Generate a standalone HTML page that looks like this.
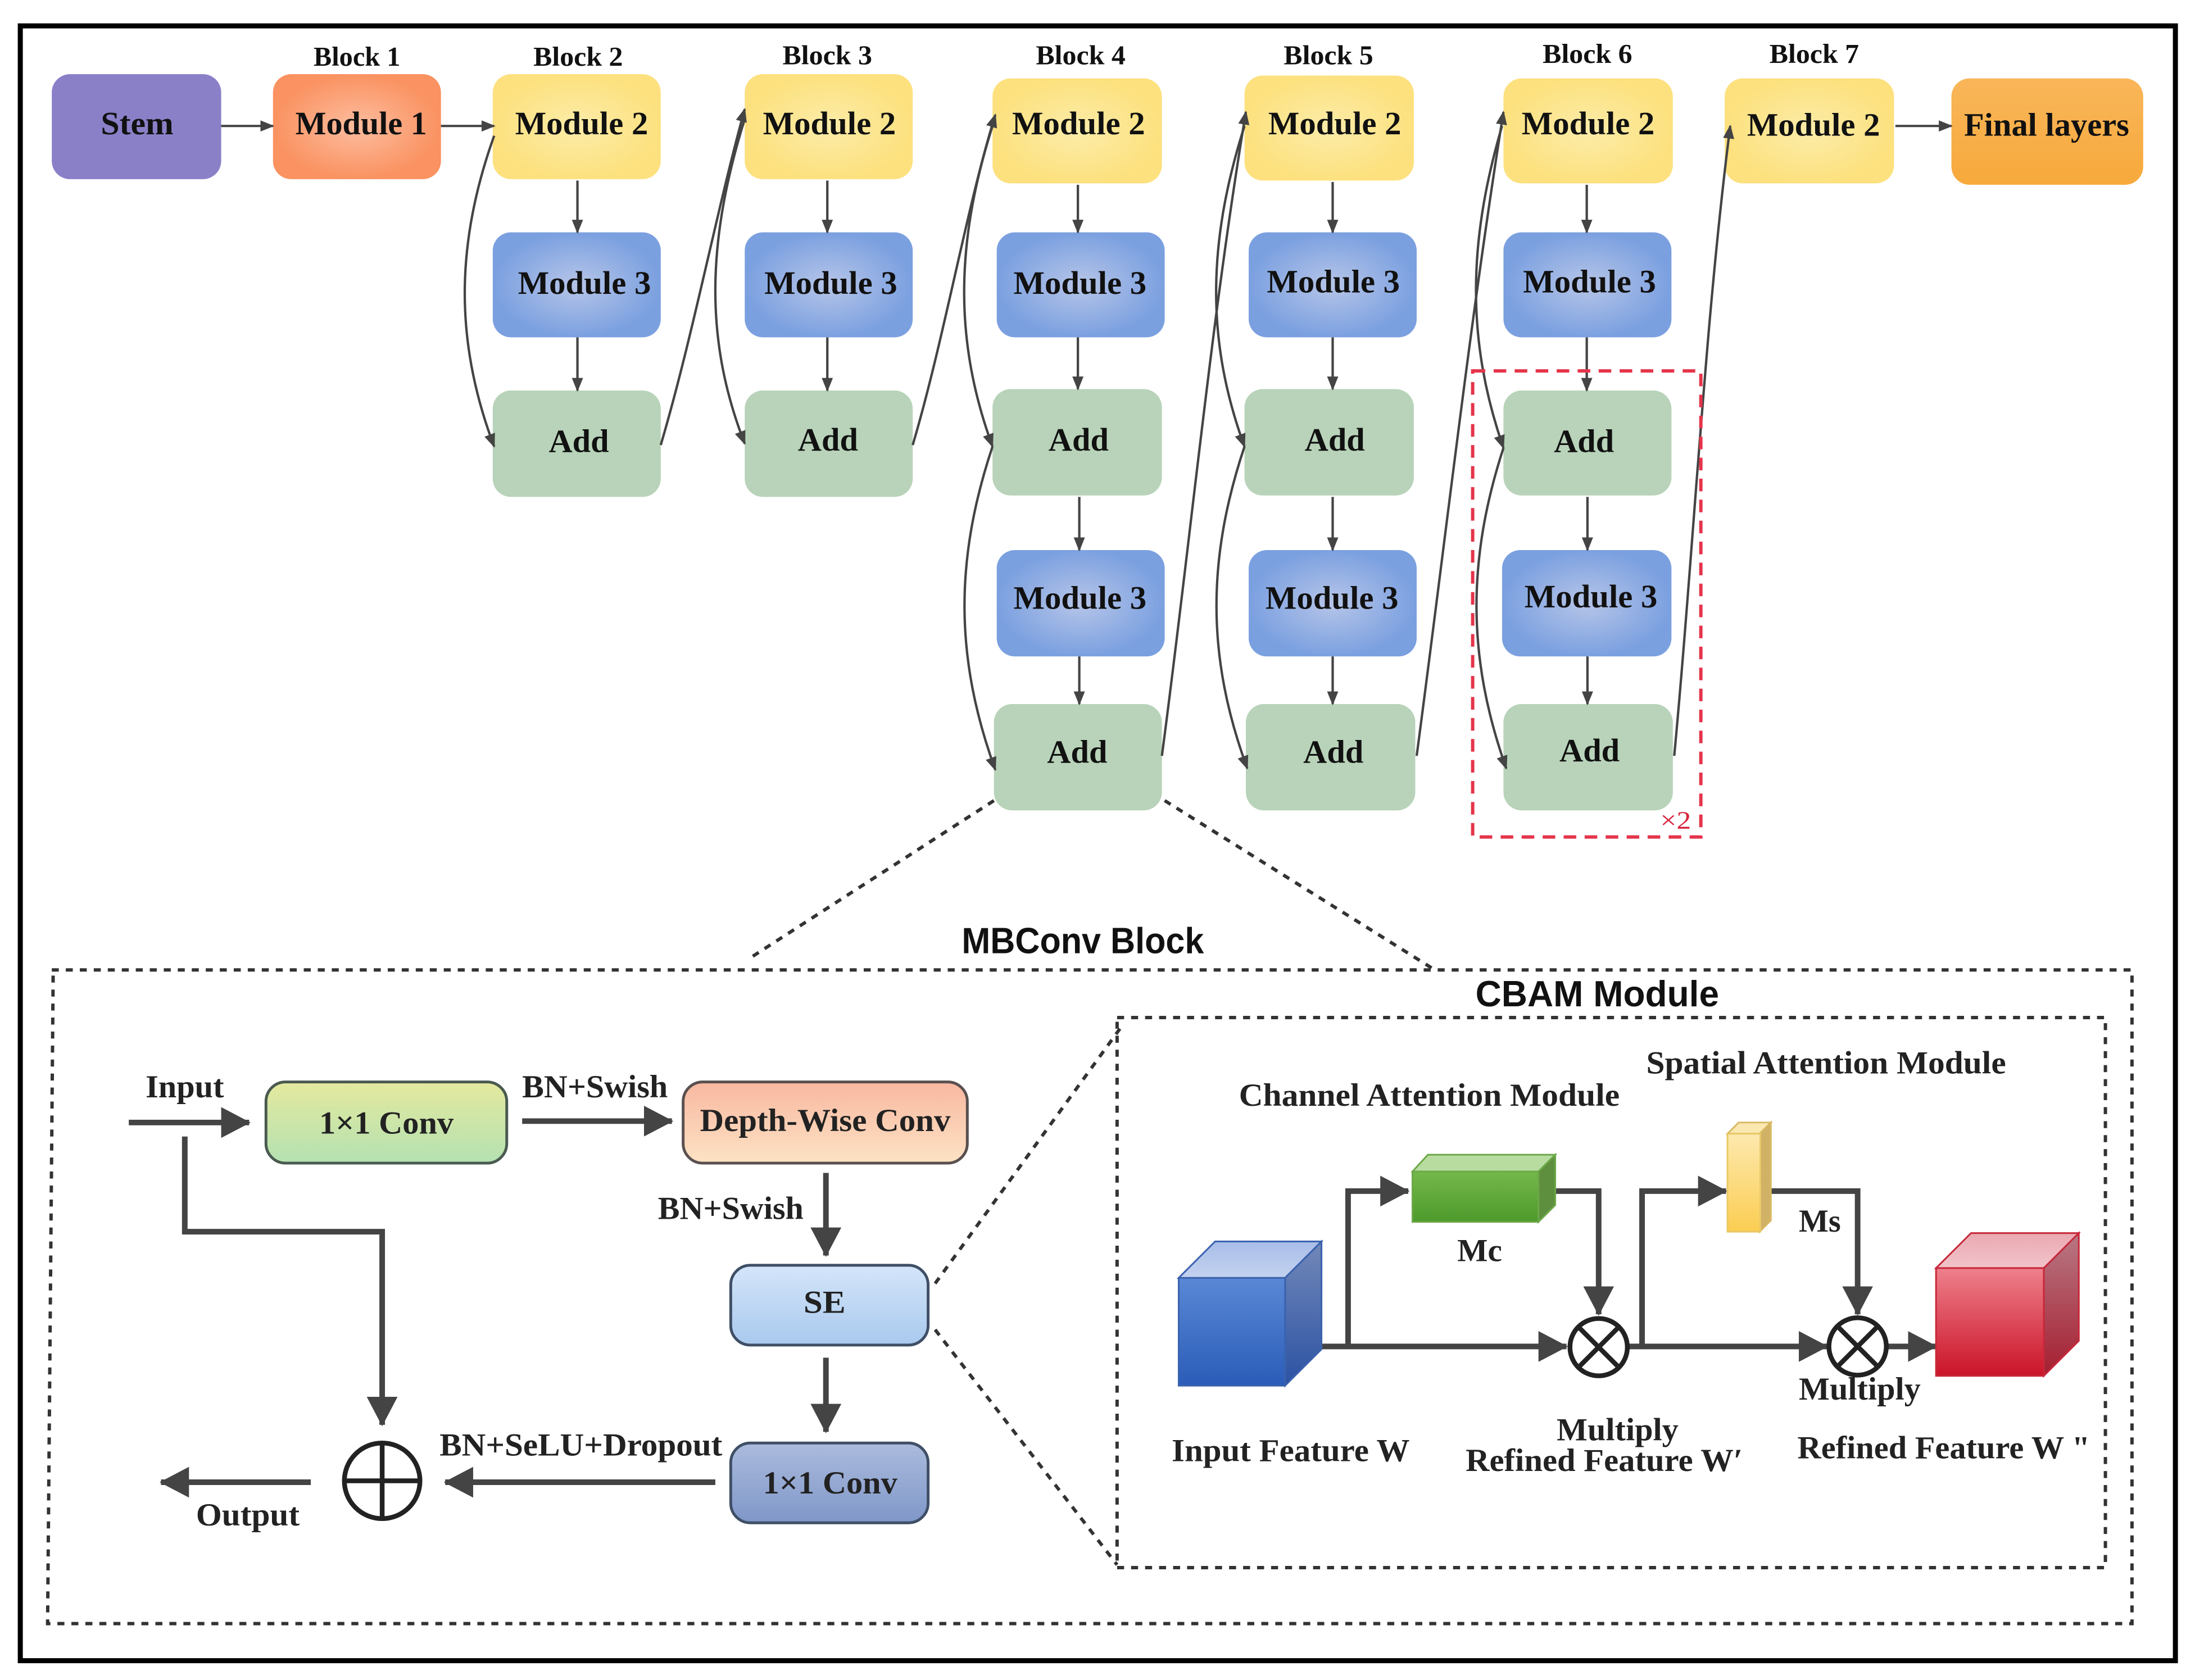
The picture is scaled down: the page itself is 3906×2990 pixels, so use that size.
<!DOCTYPE html>
<html><head><meta charset="utf-8"><title>Diagram</title>
<style>
html,body{margin:0;padding:0;background:#fff}
svg{display:block}
text{font-family:"Liberation Serif",serif;font-weight:bold;fill:#111}
.m{font-size:23.5px}
.b{font-size:19.5px}
.l{font-size:23px;fill:#222}
.s{font-family:"Liberation Sans",sans-serif;font-size:26px;fill:#111}
.t path,.t line{fill:none;stroke:#444;stroke-width:1.7}
.a path,.a line,.a polyline{fill:none;stroke:#444;stroke-width:4}
.d{fill:none;stroke:#333;stroke-width:2.4;stroke-dasharray:5 5}
</style></head><body>
<svg xmlns="http://www.w3.org/2000/svg" width="3906" height="2990" viewBox="0 0 1568 1200.3" preserveAspectRatio="none">
<defs>
<marker id="s" markerUnits="userSpaceOnUse" markerWidth="12" markerHeight="10" refX="9" refY="5" orient="auto"><path d="M0,1 L10,5 L0,9 Z" fill="#444"/></marker>
<marker id="g" markerUnits="userSpaceOnUse" markerWidth="24" markerHeight="26" refX="20" refY="13" orient="auto"><path d="M0,2 L21,13 L0,24 Z" fill="#444"/></marker>
<radialGradient id="o"><stop offset="0" stop-color="#fdbd9f"/><stop offset="1" stop-color="#fa9261"/></radialGradient>
<radialGradient id="y"><stop offset="0" stop-color="#fbeca8"/><stop offset="1" stop-color="#fde17f"/></radialGradient>
<radialGradient id="bl"><stop offset="0" stop-color="#b6c5e8"/><stop offset="1" stop-color="#7ba0e0"/></radialGradient>
<linearGradient id="fl" x1="0" x2="0" y1="0" y2="1"><stop offset="0" stop-color="#f9b65a"/><stop offset="1" stop-color="#f7a93b"/></linearGradient>
<linearGradient id="c1" x1="0" x2="0" y1="0" y2="1"><stop offset="0" stop-color="#e4e99e"/><stop offset="1" stop-color="#b4e1b2"/></linearGradient>
<linearGradient id="c2" x1="0" x2="0" y1="0" y2="1"><stop offset="0" stop-color="#f8b8a0"/><stop offset="1" stop-color="#fde2c4"/></linearGradient>
<linearGradient id="c3" x1="0" x2="0" y1="0" y2="1"><stop offset="0" stop-color="#d4e5f9"/><stop offset="1" stop-color="#a9c9ee"/></linearGradient>
<linearGradient id="c4" x1="0" x2="0" y1="0" y2="1"><stop offset="0" stop-color="#abbbdd"/><stop offset="1" stop-color="#7f97c8"/></linearGradient>
<linearGradient id="cb" x1="0" x2="0" y1="0" y2="1"><stop offset="0" stop-color="#5a88d6"/><stop offset="1" stop-color="#2a5cb8"/></linearGradient>
<linearGradient id="cg" x1="0" x2="0" y1="0" y2="1"><stop offset="0" stop-color="#74b84a"/><stop offset="1" stop-color="#4e9a2c"/></linearGradient>
<linearGradient id="cy" x1="0" x2="0" y1="0" y2="1"><stop offset="0" stop-color="#fde9ae"/><stop offset="1" stop-color="#fbcd52"/></linearGradient>
<linearGradient id="cr" x1="0" x2="0" y1="0" y2="1"><stop offset="0" stop-color="#ee808c"/><stop offset="1" stop-color="#cb1428"/></linearGradient>
<linearGradient id="sb" x1="0" x2="0" y1="0" y2="1"><stop offset="0" stop-color="#7288b8"/><stop offset="1" stop-color="#2c52a4"/></linearGradient>
<linearGradient id="sr" x1="0" x2="0" y1="0" y2="1"><stop offset="0" stop-color="#b87884"/><stop offset="1" stop-color="#a51e30"/></linearGradient>
<linearGradient id="tb" x1="0" x2="0" y1="0" y2="1"><stop offset="0" stop-color="#a9bde8"/><stop offset="1" stop-color="#c4d2f0"/></linearGradient>
<linearGradient id="tr" x1="0" x2="0" y1="0" y2="1"><stop offset="0" stop-color="#eaa8b2"/><stop offset="1" stop-color="#f2c4ca"/></linearGradient>
</defs>

<rect x="14.5" y="18.5" width="1539.5" height="1168" fill="#fff" stroke="#000" stroke-width="3.6"/>

<!-- top row boxes -->
<g>
<rect x="37" y="53" width="121" height="75" rx="13" fill="#8a80c8"/>
<rect x="195" y="53" width="120" height="75" rx="13" fill="url(#o)"/>
<rect x="352" y="53" width="120" height="75" rx="13" fill="url(#y)"/>
<rect x="352" y="166" width="120" height="75" rx="13" fill="url(#bl)"/>
<rect x="352" y="279" width="120" height="76" rx="13" fill="#b8d3b9"/>
<rect x="532" y="53" width="120" height="75" rx="13" fill="url(#y)"/>
<rect x="532" y="166" width="120" height="75" rx="13" fill="url(#bl)"/>
<rect x="532" y="279" width="120" height="76" rx="13" fill="#b8d3b9"/>
<rect x="709" y="56" width="121" height="75" rx="13" fill="url(#y)"/>
<rect x="712" y="166" width="120" height="75" rx="13" fill="url(#bl)"/>
<rect x="709" y="278" width="121" height="76" rx="13" fill="#b8d3b9"/>
<rect x="712" y="393" width="120" height="76" rx="13" fill="url(#bl)"/>
<rect x="710" y="503" width="120" height="76" rx="13" fill="#b8d3b9"/>
<rect x="889" y="54" width="121" height="75" rx="13" fill="url(#y)"/>
<rect x="892" y="166" width="120" height="75" rx="13" fill="url(#bl)"/>
<rect x="889" y="278" width="121" height="76" rx="13" fill="#b8d3b9"/>
<rect x="892" y="393" width="120" height="76" rx="13" fill="url(#bl)"/>
<rect x="890" y="503" width="121" height="76" rx="13" fill="#b8d3b9"/>
<rect x="1074" y="56" width="121" height="75" rx="13" fill="url(#y)"/>
<rect x="1074" y="166" width="120" height="75" rx="13" fill="url(#bl)"/>
<rect x="1074" y="279" width="120" height="75" rx="13" fill="#b8d3b9"/>
<rect x="1073" y="393" width="121" height="76" rx="13" fill="url(#bl)"/>
<rect x="1074" y="503" width="121" height="76" rx="13" fill="#b8d3b9"/>
<rect x="1232" y="56" width="121" height="75" rx="13" fill="url(#y)"/>
<rect x="1394" y="56" width="137" height="76" rx="13" fill="url(#fl)"/>
</g>

<!-- thin connectors -->
<g class="t">
<path d="M158,90H195" marker-end="url(#s)"/>
<path d="M315,90H353" marker-end="url(#s)"/>
<path d="M1354,90H1394" marker-end="url(#s)"/>
<path d="M412.500,129V166" marker-end="url(#s)"/><path d="M412.500,241V279" marker-end="url(#s)"/>
<path d="M591,129V166" marker-end="url(#s)"/><path d="M591,241V279" marker-end="url(#s)"/>
<path d="M770,132V166" marker-end="url(#s)"/><path d="M770,241V278" marker-end="url(#s)"/><path d="M771,355V393" marker-end="url(#s)"/><path d="M771,469V503" marker-end="url(#s)"/>
<path d="M952,130V166" marker-end="url(#s)"/><path d="M952,241V278" marker-end="url(#s)"/><path d="M952,355V393" marker-end="url(#s)"/><path d="M952,469V503" marker-end="url(#s)"/>
<path d="M1133.500,132V166" marker-end="url(#s)"/><path d="M1133.500,241V279" marker-end="url(#s)"/><path d="M1134,355V393" marker-end="url(#s)"/><path d="M1134,469V503" marker-end="url(#s)"/>

<path d="M353,97C325,175 325,245 353,319" marker-end="url(#s)"/>
<path d="M472,318C495,240 512,150 532,78" marker-end="url(#s)"/>
<path d="M532,85C504,175 504,245 532,317" marker-end="url(#s)"/>
<path d="M652,318C675,240 690,150 711,82" marker-end="url(#s)"/>
<path d="M709,90C682,175 682,245 709,319" marker-end="url(#s)"/>
<path d="M709,319C682,400 682,470 711,550" marker-end="url(#s)"/>
<path d="M830,540C850,390 865,230 890,80" marker-end="url(#s)"/>
<path d="M889,90C862,175 862,245 889,319" marker-end="url(#s)"/>
<path d="M889,319C862,400 862,470 891,549" marker-end="url(#s)"/>
<path d="M1012,540C1032,390 1050,230 1074,80" marker-end="url(#s)"/>
<path d="M1073,90C1048,175 1048,245 1074,320" marker-end="url(#s)"/>
<path d="M1074,320C1048,400 1048,470 1076,549" marker-end="url(#s)"/>
<path d="M1196,540C1210,390 1218,230 1236,90" marker-end="url(#s)"/>
</g>

<!-- red dashed -->
<rect x="1052" y="265" width="163" height="333" fill="none" stroke="#e5344a" stroke-width="2.4" stroke-dasharray="9 6"/>
<text x="1186" y="592" style="font-size:18px;fill:#d8203a;font-weight:normal" textLength="22" lengthAdjust="spacingAndGlyphs">×2</text>

<!-- top labels -->
<text class="b" x="224" y="47" textLength="62" lengthAdjust="spacingAndGlyphs">Block 1</text>
<text class="b" x="381" y="47" textLength="64" lengthAdjust="spacingAndGlyphs">Block 2</text>
<text class="b" x="559" y="46" textLength="64" lengthAdjust="spacingAndGlyphs">Block 3</text>
<text class="b" x="740" y="46" textLength="64" lengthAdjust="spacingAndGlyphs">Block 4</text>
<text class="b" x="917" y="46" textLength="64" lengthAdjust="spacingAndGlyphs">Block 5</text>
<text class="b" x="1102" y="45" textLength="64" lengthAdjust="spacingAndGlyphs">Block 6</text>
<text class="b" x="1264" y="45" textLength="64" lengthAdjust="spacingAndGlyphs">Block 7</text>

<text class="m" x="72" y="96" textLength="52" lengthAdjust="spacingAndGlyphs">Stem</text>
<text class="m" x="211" y="96" textLength="94" lengthAdjust="spacingAndGlyphs">Module 1</text>
<text class="m" x="368" y="96" textLength="95" lengthAdjust="spacingAndGlyphs">Module 2</text>
<text class="m" x="370" y="210" textLength="95" lengthAdjust="spacingAndGlyphs">Module 3</text>
<text class="m" x="392" y="323" textLength="43" lengthAdjust="spacingAndGlyphs">Add</text>
<text class="m" x="545" y="96" textLength="95" lengthAdjust="spacingAndGlyphs">Module 2</text>
<text class="m" x="546" y="210" textLength="95" lengthAdjust="spacingAndGlyphs">Module 3</text>
<text class="m" x="570" y="322" textLength="43" lengthAdjust="spacingAndGlyphs">Add</text>
<text class="m" x="723" y="96" textLength="95" lengthAdjust="spacingAndGlyphs">Module 2</text>
<text class="m" x="724" y="210" textLength="95" lengthAdjust="spacingAndGlyphs">Module 3</text>
<text class="m" x="749" y="322" textLength="43" lengthAdjust="spacingAndGlyphs">Add</text>
<text class="m" x="724" y="435" textLength="95" lengthAdjust="spacingAndGlyphs">Module 3</text>
<text class="m" x="748" y="545" textLength="43" lengthAdjust="spacingAndGlyphs">Add</text>
<text class="m" x="906" y="96" textLength="95" lengthAdjust="spacingAndGlyphs">Module 2</text>
<text class="m" x="905" y="209" textLength="95" lengthAdjust="spacingAndGlyphs">Module 3</text>
<text class="m" x="932" y="322" textLength="43" lengthAdjust="spacingAndGlyphs">Add</text>
<text class="m" x="904" y="435" textLength="95" lengthAdjust="spacingAndGlyphs">Module 3</text>
<text class="m" x="931" y="545" textLength="43" lengthAdjust="spacingAndGlyphs">Add</text>
<text class="m" x="1087" y="96" textLength="95" lengthAdjust="spacingAndGlyphs">Module 2</text>
<text class="m" x="1088" y="209" textLength="95" lengthAdjust="spacingAndGlyphs">Module 3</text>
<text class="m" x="1110" y="323" textLength="43" lengthAdjust="spacingAndGlyphs">Add</text>
<text class="m" x="1089" y="434" textLength="95" lengthAdjust="spacingAndGlyphs">Module 3</text>
<text class="m" x="1114" y="544" textLength="43" lengthAdjust="spacingAndGlyphs">Add</text>
<text class="m" x="1248" y="97" textLength="95" lengthAdjust="spacingAndGlyphs">Module 2</text>
<text class="m" x="1403" y="97" textLength="118" lengthAdjust="spacingAndGlyphs">Final layers</text>

<!-- zoom dashes -->
<path class="d" d="M710,572L535,685M832,572L1025,693"/>
<path class="d" d="M37,693H1523V1160H34L38,693"/>
<path class="d" d="M798,727H1504V1120H798Z"/>
<path class="d" d="M668,917L800,735M668,950L798,1118"/>

<text class="s" x="687" y="681" textLength="173" lengthAdjust="spacingAndGlyphs">MBConv Block</text>
<text class="s" x="1054" y="719" textLength="174" lengthAdjust="spacingAndGlyphs">CBAM Module</text>

<!-- MBConv boxes -->
<rect x="190" y="773" width="172" height="58" rx="14" fill="url(#c1)" stroke="#4a5a50" stroke-width="2"/>
<rect x="488" y="773" width="203" height="58" rx="14" fill="url(#c2)" stroke="#5a5050" stroke-width="2"/>
<rect x="522" y="904" width="141" height="57" rx="14" fill="url(#c3)" stroke="#3f4f66" stroke-width="2"/>
<rect x="522" y="1031" width="141" height="57" rx="14" fill="url(#c4)" stroke="#3f4f66" stroke-width="2"/>

<g class="a">
<path d="M92,802H178" marker-end="url(#g)"/>
<path d="M373,801H480" marker-end="url(#g)"/>
<path d="M590,838V897" marker-end="url(#g)"/>
<path d="M590,970V1023" marker-end="url(#g)"/>
<path d="M511,1059H318" marker-end="url(#g)"/>
<path d="M222,1059H115" marker-end="url(#g)"/>
<path d="M132,812V880H273V1018" marker-end="url(#g)"/>
</g>
<g fill="none" stroke="#222" stroke-width="3.4">
<circle cx="273" cy="1058" r="27"/>
<path d="M246,1058H300M273,1031V1085"/>
</g>

<text class="l" x="104" y="784" textLength="56" lengthAdjust="spacingAndGlyphs">Input</text>
<text class="l" x="373" y="784" textLength="104" lengthAdjust="spacingAndGlyphs">BN+Swish</text>
<text class="l" x="228" y="810" textLength="96" lengthAdjust="spacingAndGlyphs">1×1 Conv</text>
<text class="l" x="500" y="808" textLength="179" lengthAdjust="spacingAndGlyphs">Depth-Wise Conv</text>
<text class="l" x="470" y="871" textLength="104" lengthAdjust="spacingAndGlyphs">BN+Swish</text>
<text class="l" x="574" y="938" textLength="30" lengthAdjust="spacingAndGlyphs">SE</text>
<text class="l" x="314" y="1040" textLength="202" lengthAdjust="spacingAndGlyphs">BN+SeLU+Dropout</text>
<text class="l" x="545" y="1067" textLength="96" lengthAdjust="spacingAndGlyphs">1×1 Conv</text>
<text class="l" x="140" y="1090" textLength="74" lengthAdjust="spacingAndGlyphs">Output</text>

<!-- CBAM arrows -->
<g class="a">
<path d="M944,962H1119" marker-end="url(#g)"/>
<path d="M963,962V851H1006" marker-end="url(#g)"/>
<path d="M1110,851H1142V939" marker-end="url(#g)"/>
<path d="M1164,962H1305" marker-end="url(#g)"/>
<path d="M1173,962V851H1233" marker-end="url(#g)"/>
<path d="M1265,851H1327V939" marker-end="url(#g)"/>
<path d="M1349,962H1383" marker-end="url(#g)"/>
</g>

<!-- cubes -->
<g stroke-width="1.2">
<polygon points="842,913 868,887 944,887 918,913" fill="url(#tb)" stroke="#3a62ad"/>
<polygon points="918,913 944,887 944,964 918,990" fill="url(#sb)" stroke="#3a62ad"/>
<rect x="842" y="913" width="76" height="77" fill="url(#cb)" stroke="#3a62ad"/>

<polygon points="1009,837 1020,825 1111,825 1099,837" fill="#b8dca0" stroke="#6ca848"/>
<polygon points="1099,837 1111,825 1111,861 1099,873" fill="#5e8f3e" stroke="#6ca848"/>
<rect x="1009" y="837" width="90" height="36" fill="url(#cg)" stroke="#6ca848"/>

<polygon points="1234,810 1242,802 1265,802 1257,810" fill="#fbe7b0" stroke="#d8b860"/>
<polygon points="1257,810 1265,802 1265,872 1257,880" fill="#cfb266" stroke="#d8b860"/>
<rect x="1234" y="810" width="23.500" height="70" fill="url(#cy)" stroke="#e8c868"/>

<polygon points="1383,906 1408,881 1485,881 1460,906" fill="url(#tr)" stroke="#c7283a"/>
<polygon points="1460,906 1485,881 1485,958 1460,983" fill="url(#sr)" stroke="#c7283a"/>
<rect x="1383" y="906" width="77" height="77" fill="url(#cr)" stroke="#c7283a"/>
</g>

<g fill="#fff" stroke="#222" stroke-width="3.4">
<circle cx="1142" cy="962.500" r="20.500"/>
<path d="M1127.500,948L1156.500,977M1156.500,948L1127.500,977" fill="none"/>
<circle cx="1327" cy="962" r="20.500"/>
<path d="M1312.500,947.500L1341.500,976.500M1341.500,947.500L1312.500,976.500" fill="none"/>
</g>

<text class="l" x="885" y="790" textLength="272" lengthAdjust="spacingAndGlyphs">Channel Attention Module</text>
<text class="l" x="1176" y="767" textLength="257" lengthAdjust="spacingAndGlyphs">Spatial Attention Module</text>
<text class="l" x="1041" y="901" textLength="32" lengthAdjust="spacingAndGlyphs">Mc</text>
<text class="l" x="1285" y="880" textLength="30" lengthAdjust="spacingAndGlyphs">Ms</text>
<text class="l" x="837" y="1044" textLength="170" lengthAdjust="spacingAndGlyphs">Input Feature W</text>
<text class="l" x="1112" y="1029" textLength="87" lengthAdjust="spacingAndGlyphs">Multiply</text>
<text class="l" x="1047" y="1051" textLength="198" lengthAdjust="spacingAndGlyphs">Refined Feature W′</text>
<text class="l" x="1285" y="1000" textLength="87" lengthAdjust="spacingAndGlyphs">Multiply</text>
<text class="l" x="1284" y="1042" textLength="209" lengthAdjust="spacingAndGlyphs">Refined Feature W "</text>
</svg>
</body></html>
